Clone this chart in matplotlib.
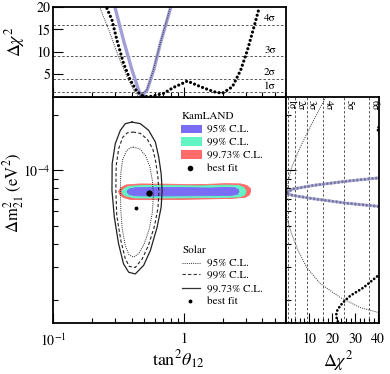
import matplotlib
matplotlib.use("Agg")
import matplotlib.pyplot as plt
from matplotlib.patches import Polygon, Rectangle
import numpy as np

plt.rcParams["font.family"] = "serif"
plt.rcParams["font.serif"] = ["STIXGeneral", "Liberation Serif", "DejaVu Serif"]
plt.rcParams["mathtext.fontset"] = "stix"

E5 = 1e-5

# --- top panel: delta chi^2 vs tan^2 theta ---
top_solar_t = [0.23, 0.274, 0.318, 0.369, 0.415, 0.453, 0.526, 0.591, 0.665, 0.794]
top_solar_c = [19.7, 14.1, 8.9, 4.46, 1.49, 0.0, 1.6, 6.2, 12.1, 20.0]
top_comb_t = [0.300, 0.347, 0.403, 0.453, 0.475, 0.526, 0.591, 0.665, 0.794]
top_comb_c = [19.7, 12.6, 5.95, 1.49, 0.0, 1.49, 5.95, 11.9, 19.7]
top_kam_t = [0.259, 0.283, 0.309, 0.347, 0.391, 0.44, 0.495, 0.54, 0.591, 0.706, 0.842,
             1.005, 1.068, 1.35, 1.71, 1.985, 2.37, 2.745, 3.09, 3.47, 3.79]
top_kam_c = [19.7, 17.1, 12.6, 7.45, 3.72, 1.1, 0.1, 0.0, 0.2, 0.76, 2.1,
             3.1, 3.5, 2.23, 1.11, 0.76, 2.23, 5.95, 10.4, 15.6, 19.7]

# --- right panel: delta chi^2 vs delta m^2 (units 1e-5 eV^2) ---
right_solar_m = [25.4, 18.6, 13.3, 10.4, 8.8, 7.5, 6.3, 5.37, 4.56, 3.7, 2.99, 2.45, 2.06, 1.82, 1.71]
right_solar_c = [17.7, 11.9, 6.1, 2.5, 1.0, 0.5, 0.0, 0.6, 2.4, 5.2, 9.0, 14.8, 23.5, 32.0, 40.0]
right_comb_m = [9.13, 8.75, 8.30, 7.93, 7.54, 7.33, 7.03, 6.65, 6.38]
right_comb_c = [40.9, 26.4, 11.9, 2.9, 0.0, 2.9, 11.9, 26.4, 40.9]
right_kam_m = [18.63, 16.87, 15.27, 12.83, 10.0, 9.13, 8.75, 8.30, 7.93, 7.54, 7.33, 7.03,
               6.65, 6.38, 4.74, 2.95, 2.71, 2.33, 2.11, 1.98, 1.86, 1.75, 1.67, 1.58, 1.49, 1.36]
right_kam_c = [44, 39.5, 41, 48, 55, 40.9, 26.4, 11.9, 2.9, 0.0, 2.9, 11.9,
               26.4, 40.9, 60, 48, 40, 33.6, 28, 25.5, 23.5, 22.2, 21.8, 22.0, 22.8, 25]

# --- main panel: solar contours (tan^2, dm^2 in 1e-5) ---
sol_9973_t = [0.403, 0.467, 0.541, 0.609, 0.646, 0.674, 0.686, 0.674, 0.628, 0.557, 0.495,
              0.427, 0.380, 0.347, 0.318, 0.295, 0.283, 0.284, 0.300, 0.328, 0.358]
sol_9973_m = [18.24, 17.88, 16.45, 14.22, 11.80, 9.60, 7.80, 6.33, 4.94, 3.69, 3.07,
              2.76, 2.82, 3.13, 4.02, 5.59, 7.80, 10.87, 13.94, 16.45, 17.88]
sol_99_t = [0.409, 0.467, 0.529, 0.583, 0.614, 0.637, 0.648, 0.637, 0.598, 0.538, 0.484,
            0.427, 0.384, 0.358, 0.331, 0.308, 0.303, 0.305, 0.319, 0.342, 0.371]
sol_99_m = [16.11, 15.85, 14.71, 12.99, 11.05, 9.17, 7.60, 6.23, 4.98, 3.93, 3.34,
            2.99, 3.03, 3.34, 4.18, 5.71, 7.80, 10.64, 13.15, 15.08, 15.95]
sol_95_t = [0.413, 0.463, 0.510, 0.552, 0.577, 0.588, 0.577, 0.548, 0.501, 0.455,
            0.413, 0.381, 0.358, 0.339, 0.331, 0.328, 0.331, 0.342, 0.364, 0.388]
sol_95_m = [13.36, 13.07, 12.05, 10.51, 8.83, 7.33, 5.93, 4.86, 4.03, 3.56,
            3.40, 3.51, 3.93, 4.86, 6.08, 7.80, 9.75, 11.47, 12.67, 13.23]

# --- main panel: KamLAND allowed regions ---
kam_9973_t = [0.3178, 0.3335, 0.3643, 0.4669, 0.7943, 1.132, 1.476, 2.104, 2.745, 3.053, 3.248,
              3.277, 3.191, 2.947, 2.299, 1.476, 0.9482, 0.5574, 0.3911, 0.3455, 0.3247]
kam_9973_m = [7.70, 8.093, 8.349, 8.453, 8.422, 8.380, 8.401, 8.484, 8.453, 8.297, 7.993,
              7.70, 7.371, 7.145, 7.056, 7.012, 6.969, 6.952, 6.969, 7.145, 7.418]
kam_99_t = [0.3377, 0.3517, 0.3842, 0.5101, 0.8679, 1.351, 2.104, 2.649, 2.895, 3.015,
            2.947, 2.696, 1.925, 1.132, 0.6655, 0.4273, 0.3708, 0.3455]
kam_99_m = [7.70, 7.993, 8.215, 8.297, 8.276, 8.246, 8.328, 8.297, 8.093, 7.748,
            7.371, 7.190, 7.145, 7.118, 7.091, 7.101, 7.235, 7.418]
kam_95_t = [0.3676, 0.3842, 0.4273, 0.6655, 1.132, 1.613, 2.104, 2.468, 2.625, 2.663,
            2.579, 2.299, 1.613, 0.9482, 0.5574, 0.4273, 0.3842]
kam_95_m = [7.681, 7.943, 8.063, 8.093, 8.063, 8.033, 8.093, 8.063, 7.894, 7.652,
            7.418, 7.326, 7.307, 7.289, 7.270, 7.298, 7.399]

kam_best = (0.548, 7.54)
solar_best = (0.433, 6.29)

sigma_levels = [1, 4, 9, 16, 25, 36]
sigma_names = ["1σ", "2σ", "3σ", "4σ", "5σ", "6σ"]

C_BLUE = "#7b6cf6"
C_GREEN = "#62f5c4"
C_RED = "#ff6a6a"
C_COMB = "#a19fd6"
DOT = (0, (0.01, 1.35))

fig = plt.figure(figsize=(3.9, 3.74), dpi=100)
ax = fig.add_axes([0.1359, 0.1364, 0.5974, 0.605])
ax_top = fig.add_axes([0.1359, 0.7414, 0.5974, 0.2398], sharex=ax)
ax_r = fig.add_axes([0.7333, 0.1364, 0.2385, 0.605], sharey=ax)

for a in (ax, ax_top, ax_r):
    for sp in a.spines.values():
        sp.set_linewidth(1.3)
    a.tick_params(which="both", direction="in", width=0.8, labelsize=10,
                  top=False, right=False)
    a.tick_params(which="major", length=7)
    a.tick_params(which="minor", length=3.5)

# main panel
ax.set_xscale("log")
ax.set_yscale("log")
ax.set_xlim(0.1, 6.1)
ax.set_ylim(1.5e-5, 2.5e-4)

for t, m, col in [(kam_9973_t, kam_9973_m, C_RED), (kam_99_t, kam_99_m, C_GREEN),
                  (kam_95_t, kam_95_m, C_BLUE)]:
    pts = np.column_stack([t, np.array(m) * E5])
    ax.add_patch(Polygon(pts, closed=True, facecolor=col, edgecolor=col, lw=0.6))

for t, m, ls, lw in [(sol_95_t, sol_95_m, (0, (1, 1.2)), 0.7),
                     (sol_99_t, sol_99_m, (0, (3, 2)), 0.8),
                     (sol_9973_t, sol_9973_m, "-", 0.9)]:
    ax.plot(t + t[:1], np.array(m + m[:1]) * E5, color="#222222", ls=ls, lw=lw)

ax.plot(kam_best[0], kam_best[1] * E5, "o", color="black", ms=3.5)
ax.plot(solar_best[0], solar_best[1] * E5, "o", color="black", ms=1.8)

ax.set_xticks([0.1, 1])
ax.set_xticklabels(["10$^{-1}$", "1"])
ax.set_yticks([1e-4])
ax.set_yticklabels(["10$^{-4}$"])
ax.tick_params(axis="x", pad=7)
ax.tick_params(axis="y", pad=2)
ax.set_xlabel(r"tan$^2\theta_{12}$", fontsize=13)
ax.xaxis.set_label_coords(0.536, -0.115)
ax.set_ylabel(r"$\Delta$m$^2_{21}$ (eV$^2$)", fontsize=12)
ax.yaxis.set_label_coords(-0.118, 0.575)

# legend drawn by hand
tr = ax.transAxes
lx, tx = 0.549, 0.66
ax.text(0.554, 0.915, "KamLAND", transform=tr, fontsize=8, va="center")
for y0, col, lab in [(0.838, C_BLUE, "95% C.L."), (0.783, C_GREEN, "99% C.L."),
                     (0.725, C_RED, "99.73% C.L.")]:
    ax.add_patch(Rectangle((lx, y0), 0.089, 0.038, transform=tr, facecolor=col, edgecolor="none"))
    ax.text(tx, y0 + 0.019, lab, transform=tr, fontsize=8, va="center")
ax.plot([0.588], [0.683], "o", color="black", ms=3, transform=tr)
ax.text(tx, 0.683, "best fit", transform=tr, fontsize=8, va="center")

ax.text(0.554, 0.323, "Solar", transform=tr, fontsize=8, va="center")
for y0, ls, lw, lab in [(0.265, (0, (1, 1.2)), 0.7, "95% C.L."), (0.215, (0, (3, 2)), 0.8, "99% C.L."),
                        (0.153, "-", 0.9, "99.73% C.L.")]:
    ax.plot([0.554, 0.631], [y0, y0], color="#333333", ls=ls, lw=lw, transform=tr)
    ax.text(tx, y0, lab, transform=tr, fontsize=8, va="center")
ax.plot([0.588], [0.097], "o", color="black", ms=1.8, transform=tr)
ax.text(tx, 0.097, "best fit", transform=tr, fontsize=8, va="center")

# top panel
ax_top.set_ylim(0, 20)
for lev in sigma_levels[:4]:
    ax_top.axhline(lev, color="#555555", lw=0.7, ls=(0, (2.5, 2)))
for lev, nm in zip(sigma_levels[:4], sigma_names[:4]):
    ax_top.text(0.931, lev + 0.35, nm, transform=ax_top.get_yaxis_transform(),
                fontsize=8, ha="center", va="bottom")
ax_top.plot(top_comb_t, top_comb_c, color=C_COMB, lw=2.4)
ax_top.plot(top_solar_t, top_solar_c, color="#333333", lw=0.7, ls=(0, (1, 1.2)))
ax_top.plot(top_kam_t, top_kam_c, color="black", lw=2.3, ls=DOT, dash_capstyle="round")
ax_top.set_yticks([5, 10, 15, 20])
ax_top.tick_params(labelbottom=False, pad=2)
ax_top.set_ylabel(r"$\Delta\chi^2$", fontsize=13)
ax_top.yaxis.set_label_coords(-0.11, 0.61)

# right panel
ax_r.set_xlim(0, 40.3)
for lev in sigma_levels:
    ax_r.axvline(lev, color="#555555", lw=0.7, ls=(0, (2.5, 2)))
for lev, nm, off in zip(sigma_levels, sigma_names, [1.5, 3.5, 3.5, 4, 4, 4]):
    ax_r.annotate(nm, xy=(lev, 0.985), xycoords=ax_r.get_xaxis_transform(),
                  xytext=(off, 0), textcoords="offset points", fontsize=7,
                  rotation=-90, ha="center", va="top")
ax_r.plot(right_kam_c, np.array(right_kam_m) * E5, color="black", lw=2.0, ls=DOT,
          dash_capstyle="round")
ax_r.plot(right_comb_c, np.array(right_comb_m) * E5, color=C_COMB, lw=2.2, alpha=0.75)
ax_r.plot(right_solar_c, np.array(right_solar_m) * E5, color="#333333", lw=0.7, ls=(0, (1, 1.2)))
ax_r.set_xticks([10, 20, 30, 40])
ax_r.set_xticks(np.arange(2, 40, 2), minor=True)
ax_r.tick_params(labelleft=False, pad=7)
ax_r.set_xlabel(r"$\Delta\chi^2$", fontsize=13)
ax_r.xaxis.set_label_coords(0.56, -0.115)

fig.savefig("out.png", dpi=100)
